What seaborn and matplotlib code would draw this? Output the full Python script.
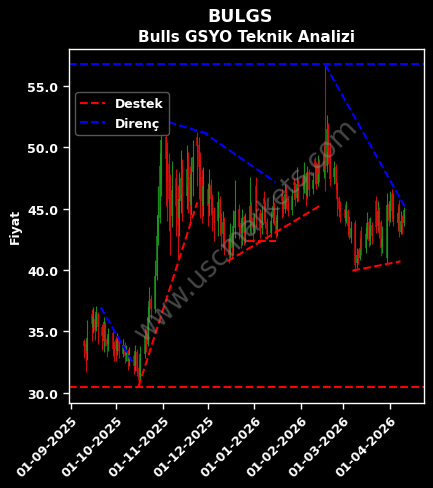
import pandas as pd
import numpy as np
import matplotlib
matplotlib.use("Agg")
import matplotlib.pyplot as plt
import matplotlib.dates as mdates
import seaborn as sns

# Daily candles (business days from 10-09-2025)
opens = [
    # Sep
    34.2, 34.0, 33.4, 36.4, 35.3, 36.0, 35.2, 36.4, 35.4, 34.2, 35.6, 34.4, 34.0, 34.9, 33.9,
    # Oct
    34.4, 33.4, 34.3, 33.2, 33.9, 33.1, 33.4, 32.6, 33.0, 32.2, 33.3, 32.0, 31.3, 33.2, 35.0,
    34.0, 36.0, 37.6, 36.8, 39.5, 42.8, 44.2, 47.0,
    # Nov
    50.8, 49.6, 48.6, 46.2, 44.4, 47.5, 45.8, 44.2, 45.6, 48.4, 46.0, 49.1, 47.6, 45.3, 48.0,
    50.8, 50.2, 48.9, 47.6, 45.2,
    # Dec
    46.6, 45.4, 46.9, 45.9, 44.8, 44.0, 45.8, 44.3, 42.9, 44.0, 42.5, 41.3, 43.0, 41.9, 43.4,
    45.0, 43.8, 43.0, 44.3, 43.1, 43.9, 45.3, 44.2,
    # Jan
    43.2, 46.8, 44.6, 43.4, 45.9, 45.2, 43.9, 43.0, 44.2, 45.3, 44.0, 43.3, 46.2, 45.7, 45.0,
    46.4, 45.6, 44.9, 47.2, 46.8, 45.9, 47.1,
    # Feb
    47.5, 46.6, 47.8, 46.0, 48.0, 46.6, 49.0, 48.5, 47.0, 48.8, 48.0, 50.5, 48.5, 51.8, 50.0,
    47.6, 48.4, 47.0, 45.9, 45.3,
    # Mar
    45.0, 44.0, 44.8, 44.2, 42.6, 43.8, 40.6, 41.5, 41.0, 43.2, 41.8, 42.8, 43.9, 42.5, 43.7,
    45.6, 43.6, 44.9, 43.9, 41.9, 41.0, 45.4,
    # Apr
    44.2, 46.2, 46.0, 43.8, 45.4, 43.1, 44.3, 43.8,
]
close = [
    33.8, 33.2, 34.5, 35.6, 36.2, 35.0, 36.6, 35.4, 34.6, 35.8, 34.2, 33.8, 34.8, 33.6, 33.2,
    33.6, 34.2, 33.4, 33.9, 33.0, 33.5, 32.6, 33.2, 32.2, 33.4, 31.8, 31.0, 33.2, 34.6, 34.0,
    36.2, 37.5, 36.8, 39.5, 42.8, 44.5, 48.5, 50.6,
    49.0, 47.2, 45.8, 44.0, 46.5, 45.2, 43.6, 45.8, 47.5, 46.2, 48.2, 46.8, 45.5, 47.8, 49.2,
    50.1, 48.4, 46.9, 45.6, 46.8,
    45.2, 47.0, 45.8, 44.6, 43.8, 45.5, 44.2, 42.8, 43.9, 42.2, 41.2, 42.6, 41.8, 43.6, 44.8,
    43.5, 42.9, 44.2, 43.0, 43.8, 45.2, 44.0, 43.4,
    43.9, 44.8, 43.2, 44.6, 45.4, 43.8, 42.9, 44.0, 45.2, 44.1, 43.0, 44.5, 45.6, 44.9, 46.2,
    45.5, 44.8, 46.0, 46.9, 45.7, 47.0, 46.3,
    46.8, 47.6, 46.2, 47.9, 46.5, 47.3, 48.4, 47.1, 48.6, 47.8, 49.4, 48.1, 51.5, 49.6, 47.4,
    48.3, 47.0, 45.8, 45.0, 44.7,
    44.2, 44.9, 43.6, 42.7, 43.4, 40.4, 41.2, 40.9, 41.8, 41.6, 42.9, 43.8, 42.4, 43.6, 42.8,
    43.5, 44.8, 43.0, 41.8, 42.5, 45.3, 44.0,
    45.6, 44.8, 43.9, 44.6, 43.2, 44.0, 43.7, 44.9,
]
high = [
    34.4, 34.3, 35.9, 36.8, 37.0, 36.4, 37.1, 36.6, 35.6, 36.2, 35.8, 34.6, 35.3, 35.0, 34.2,
    34.6, 34.9, 34.5, 34.4, 34.1, 33.9, 33.6, 33.7, 33.2, 33.9, 33.6, 32.2, 33.8, 35.3, 35.2,
    37.0, 38.6, 38.0, 40.8, 44.5, 46.8, 49.5, 52.5,
    51.8, 50.4, 49.5, 47.8, 48.9, 48.2, 46.9, 48.0, 49.8, 49.0, 50.2, 49.6, 48.5, 49.2, 50.6,
    51.2, 50.8, 49.6, 48.2, 48.4,
    47.1, 48.2, 47.4, 46.2, 45.1, 46.4, 46.0, 44.6, 44.8, 44.3, 42.9, 43.8, 43.1, 44.9, 47.3,
    45.4, 44.1, 45.0, 44.5, 44.6, 47.6, 45.5, 44.4,
    44.6, 47.6, 45.0, 45.2, 46.4, 45.6, 44.2, 44.8, 46.1, 45.5, 44.3, 45.2, 46.6, 46.0, 47.0,
    46.8, 45.9, 46.6, 47.5, 47.2, 48.4, 47.4,
    47.8, 48.8, 48.0, 48.5, 48.2, 48.0, 49.2, 48.8, 49.4, 49.0, 50.2, 56.7, 52.6, 52.0, 50.4,
    48.9, 48.6, 47.2, 46.0, 45.6,
    45.4, 45.6, 45.0, 44.4, 44.0, 44.1, 41.8, 41.7, 42.6, 43.6, 43.5, 44.7, 44.2, 44.3, 43.9,
    46.0, 45.6, 45.1, 44.1, 43.6, 46.3, 45.6,
    46.4, 46.6, 46.3, 45.2, 45.7, 44.8, 44.5, 45.1,
]
low = [
    32.8, 31.7, 32.7, 34.2, 34.9, 34.3, 35.0, 34.0, 33.5, 33.3, 33.8, 32.9, 33.4, 33.0, 32.6,
    32.6, 33.1, 32.8, 32.9, 32.4, 32.6, 31.9, 32.2, 31.5, 31.8, 31.4, 30.5, 31.0, 32.8, 33.3,
    33.8, 35.8, 36.0, 36.5, 39.2, 42.0, 43.8, 46.0,
    45.2, 44.0, 43.2, 41.2, 43.5, 42.8, 41.0, 42.8, 44.6, 44.0, 45.0, 44.6, 43.8, 44.5, 46.0,
    46.8, 45.8, 44.2, 43.8, 44.4,
    43.6, 44.4, 44.5, 43.2, 42.4, 42.8, 43.0, 41.6, 41.9, 41.2, 40.6, 40.8, 40.9, 41.2, 42.6,
    42.5, 41.8, 42.0, 42.0, 42.2, 43.0, 42.9, 42.3,
    43.0, 43.5, 42.6, 42.9, 44.1, 43.4, 42.5, 42.7, 43.8, 43.7, 42.6, 42.8, 44.2, 44.4, 44.6,
    45.0, 44.4, 44.5, 45.9, 45.2, 45.5, 45.6,
    45.8, 46.3, 45.2, 45.9, 46.0, 46.2, 47.0, 46.6, 46.8, 47.2, 47.5, 46.4, 48.0, 48.6, 46.8,
    47.0, 46.5, 44.4, 44.3, 43.9,
    43.6, 43.8, 42.9, 42.5, 42.2, 39.9, 40.2, 40.5, 40.8, 41.2, 41.4, 42.5, 41.9, 42.0, 42.1,
    43.0, 43.2, 42.6, 41.1, 41.4, 40.6, 43.6,
    43.9, 44.2, 43.6, 43.2, 42.7, 42.9, 42.9, 43.6,
]

# Support / resistance levels and trend segments
support_level = 30.5
resistance_level = 56.75
support_seg = [
    ("2025-10-16", 30.5, "2025-11-24", 45.5),
    ("2025-12-14", 40.7, "2026-02-13", 45.2),
    ("2025-12-27", 42.4, "2026-01-15", 42.4),
    ("2026-03-07", 39.95, "2026-04-08", 40.7),
]
resist_seg = [
    ("2025-09-21", 36.95, "2025-10-12", 32.5),
    ("2025-10-29", 52.3, "2025-12-03", 51.0),
    ("2025-11-27", 51.3, "2026-01-15", 47.15),
    ("2026-02-17", 56.7, "2026-04-12", 44.9),
]

dates = pd.bdate_range("2025-09-10", periods=len(close))
df = pd.DataFrame({"date": dates, "open": opens, "close": close, "high": high, "low": low})
df["col"] = np.where(df["close"] >= df["open"], "#1c9a1c", "#e00d0d")


def seg_frame(segs):
    rows = []
    for i, (d0, p0, d1, p1) in enumerate(segs):
        rows.append({"seg": i, "date": pd.Timestamp(d0), "price": p0})
        rows.append({"seg": i, "date": pd.Timestamp(d1), "price": p1})
    return pd.DataFrame(rows)


sns.set_style("dark", rc={"axes.facecolor": "black", "figure.facecolor": "black",
                          "axes.edgecolor": "white", "text.color": "white",
                          "xtick.color": "white", "ytick.color": "white",
                          "axes.labelcolor": "white", "xtick.bottom": True,
                          "ytick.left": True})
plt.rcParams["font.family"] = ["DejaVu Sans"]

fig = plt.figure(figsize=(4.33, 4.89), dpi=100)
ax = fig.add_axes([0.159, 0.174, 0.82, 0.724])

# candles
ax.vlines(df["date"], df["low"], df["high"], colors=df["col"], lw=0.8, alpha=0.9)
ax.vlines(df["date"], df["open"], df["close"], colors=df["col"], lw=1.2, alpha=0.85)

# levels
ax.axhline(support_level, color="red", ls="--", lw=1.5, label="Destek")
ax.axhline(resistance_level, color="blue", ls="--", lw=1.5, label="Direnç")

sns.lineplot(data=seg_frame(support_seg), x="date", y="price", units="seg",
             estimator=None, color="red", ls="--", lw=1.5, ax=ax, legend=False)
sns.lineplot(data=seg_frame(resist_seg), x="date", y="price", units="seg",
             estimator=None, color="blue", ls="--", lw=1.5, ax=ax, legend=False)

ax.set_xlim(pd.Timestamp("2025-08-30 18:00"), pd.Timestamp("2026-04-23 12:00"))
ax.set_ylim(29.18, 58.0)
ax.yaxis.set_major_formatter(matplotlib.ticker.FormatStrFormatter("%.1f"))
ax.xaxis.set_major_locator(mdates.MonthLocator())
ax.xaxis.set_major_formatter(mdates.DateFormatter("%d-%m-%Y"))
for lbl in ax.get_xticklabels():
    lbl.set_rotation(45)
    lbl.set_ha("right")
    lbl.set_rotation_mode("anchor")
ax.tick_params(labelsize=9, length=4, width=1)
for lbl in ax.get_xticklabels() + ax.get_yticklabels():
    lbl.set_fontweight("bold")
for s in ax.spines.values():
    s.set_color("white")
    s.set_linewidth(1)

ax.set_xlabel("")
ax.set_ylabel("Fiyat", fontsize=9, fontweight="bold")
ax.set_title("Bulls GSYO Teknik Analizi", fontsize=11, fontweight="bold", color="white", pad=6)
fig.text(0.554, 0.965, "BULGS", ha="center", va="center", fontsize=12.5,
         fontweight="bold", color="white")

ax.text(0.5, 0.49, "www.uscmarkets.com", transform=ax.transAxes, fontsize=20,
        color="gray", alpha=0.55, rotation=45, ha="center", va="center")

leg = ax.legend(loc="upper left", bbox_to_anchor=(0.0, 0.895), fontsize=9,
                facecolor="black", edgecolor="#555555", framealpha=1)
for t in leg.get_texts():
    t.set_color("white")
    t.set_fontweight("bold")

fig.savefig("out.png", dpi=100, facecolor="black")
